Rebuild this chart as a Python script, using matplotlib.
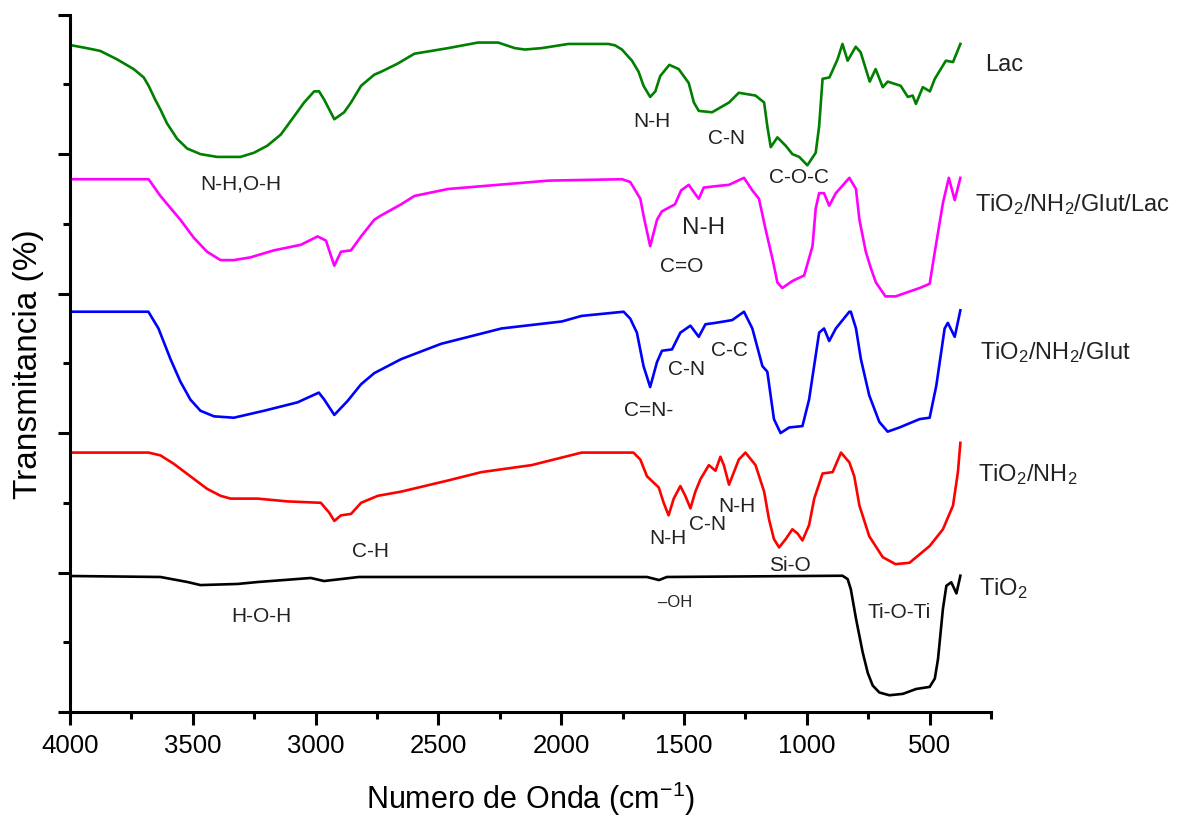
import matplotlib
matplotlib.use("Agg")
import matplotlib.pyplot as plt
from matplotlib.ticker import MultipleLocator, NullFormatter

plt.rcParams['font.family'] = ['Liberation Sans', 'DejaVu Sans']
plt.rcParams['mathtext.default'] = 'regular'

# FTIR spectra, stacked with vertical offsets (arbitrary transmittance units)
lac_wn = [3993, 3932, 3877, 3809, 3741, 3700, 3680, 3653, 3632, 3605, 3564, 3523, 3469,
          3401, 3306, 3251, 3197, 3142, 3088, 3047, 3006, 2986, 2965, 2924, 2884, 2856,
          2815, 2761, 2734, 2665, 2598, 2529, 2461, 2339, 2257, 2189, 2148, 2080, 1971,
          1808, 1781, 1753, 1712, 1685, 1665, 1638, 1617, 1597, 1560, 1522, 1481, 1460,
          1440, 1386, 1317, 1277, 1209, 1174, 1161, 1147, 1120, 1086, 1059, 1031, 998,
          964, 950, 936, 908, 875, 855, 834, 801, 781, 744, 720, 691, 671, 618, 589,
          569, 556, 528, 499, 479, 434, 405, 375]
lac_t = [4.78, 4.76, 4.74, 4.68, 4.61, 4.55, 4.49, 4.39, 4.32, 4.22, 4.11, 4.04, 4.00,
         3.98, 3.98, 4.01, 4.06, 4.14, 4.27, 4.37, 4.45, 4.45, 4.39, 4.25, 4.30, 4.37,
         4.49, 4.57, 4.59, 4.65, 4.72, 4.74, 4.76, 4.80, 4.80, 4.76, 4.75, 4.76, 4.79,
         4.79, 4.78, 4.75, 4.67, 4.59, 4.49, 4.41, 4.45, 4.56, 4.64, 4.61, 4.51, 4.37,
         4.31, 4.30, 4.37, 4.44, 4.42, 4.37, 4.20, 4.05, 4.12, 4.06, 4.00, 3.98, 3.92,
         4.01, 4.20, 4.54, 4.55, 4.68, 4.79, 4.67, 4.77, 4.73, 4.52, 4.61, 4.48, 4.52,
         4.49, 4.41, 4.42, 4.36, 4.48, 4.45, 4.54, 4.67, 4.66, 4.79]

glut_lac_wn = [3993, 3680, 3632, 3551, 3496, 3442, 3387, 3333, 3265, 3170, 3060, 2992,
               2958, 2924, 2897, 2856, 2815, 2761, 2734, 2652, 2598, 2461, 2257, 2053,
               1753, 1719, 1678, 1665, 1638, 1610, 1590, 1537, 1512, 1481, 1453, 1440,
               1420, 1372, 1317, 1256, 1222, 1195, 1168, 1140, 1120, 1100, 1059, 1011,
               977, 964, 950, 930, 909, 882, 827, 800, 786, 760, 739, 719, 680, 639, 541,
               500, 479, 446, 422, 398, 375]
glut_lac_t = [3.82, 3.82, 3.70, 3.53, 3.40, 3.30, 3.24, 3.24, 3.26, 3.31, 3.35, 3.41,
              3.38, 3.20, 3.30, 3.31, 3.41, 3.53, 3.56, 3.64, 3.70, 3.75, 3.78, 3.81,
              3.82, 3.80, 3.68, 3.56, 3.34, 3.53, 3.59, 3.64, 3.74, 3.78, 3.71, 3.68,
              3.76, 3.77, 3.78, 3.83, 3.74, 3.68, 3.46, 3.25, 3.08, 3.04, 3.09, 3.13,
              3.34, 3.61, 3.72, 3.72, 3.63, 3.72, 3.83, 3.75, 3.53, 3.30, 3.18, 3.08,
              2.98, 2.98, 3.04, 3.07, 3.30, 3.65, 3.83, 3.67, 3.83]

glut_wn = [3993, 3681, 3640, 3591, 3551, 3510, 3469, 3414, 3333, 3210, 3074, 2987, 2965,
           2924, 2897, 2870, 2815, 2761, 2652, 2489, 2243, 1998, 1917, 1746, 1719, 1692,
           1665, 1638, 1610, 1590, 1549, 1515, 1474, 1440, 1413, 1372, 1304, 1256, 1222,
           1181, 1161, 1134, 1107, 1072, 1018, 991, 950, 930, 909, 882, 827, 821, 800,
           780, 746, 705, 671, 623, 541, 500, 473, 439, 426, 398, 375]
glut_t = [2.87, 2.87, 2.75, 2.53, 2.37, 2.24, 2.16, 2.12, 2.11, 2.16, 2.22, 2.29, 2.24,
          2.13, 2.18, 2.23, 2.35, 2.43, 2.53, 2.64, 2.75, 2.80, 2.84, 2.87, 2.82, 2.72,
          2.48, 2.33, 2.51, 2.59, 2.60, 2.72, 2.77, 2.69, 2.78, 2.79, 2.81, 2.87, 2.75,
          2.48, 2.44, 2.10, 2.00, 2.04, 2.05, 2.24, 2.72, 2.75, 2.66, 2.75, 2.87, 2.87,
          2.75, 2.53, 2.27, 2.08, 2.01, 2.04, 2.10, 2.11, 2.34, 2.75, 2.79, 2.69, 2.88]

nh2_wn = [3993, 3680, 3632, 3578, 3510, 3442, 3387, 3346, 3237, 3115, 2979, 2945, 2924,
          2897, 2856, 2815, 2747, 2652, 2461, 2325, 2121, 1917, 1706, 1678, 1651, 1603,
          1583, 1563, 1542, 1515, 1495, 1474, 1454, 1433, 1399, 1372, 1352, 1338, 1317,
          1277, 1250, 1209, 1174, 1154, 1134, 1113, 1086, 1059, 1038, 1018, 991, 970,
          936, 895, 861, 827, 807, 786, 746, 691, 639, 582, 500, 446, 405, 385, 375]
nh2_t = [1.86, 1.86, 1.84, 1.78, 1.69, 1.60, 1.55, 1.53, 1.53, 1.51, 1.50, 1.43, 1.37,
         1.41, 1.42, 1.50, 1.55, 1.58, 1.66, 1.72, 1.77, 1.86, 1.86, 1.81, 1.69, 1.61,
         1.50, 1.41, 1.53, 1.62, 1.55, 1.46, 1.58, 1.67, 1.77, 1.73, 1.83, 1.77, 1.63,
         1.81, 1.86, 1.77, 1.58, 1.38, 1.24, 1.18, 1.24, 1.31, 1.28, 1.23, 1.34, 1.53,
         1.71, 1.72, 1.86, 1.79, 1.69, 1.48, 1.26, 1.11, 1.06, 1.07, 1.19, 1.31, 1.48,
         1.72, 1.93]

tio2_wn = [3993, 3632, 3522, 3469, 3318, 3236, 3130, 3020, 2966, 2824, 1651, 1602, 1570,
           855, 834, 821, 800, 773, 752, 732, 705, 664, 609, 555, 500, 479, 466, 446,
           432, 412, 391, 375]
tio2_t = [0.975, 0.968, 0.932, 0.910, 0.918, 0.932, 0.946, 0.961, 0.939, 0.968, 0.968,
          0.946, 0.968, 0.977, 0.953, 0.88, 0.67, 0.43, 0.28, 0.19, 0.14, 0.12, 0.13,
          0.165, 0.18, 0.24, 0.38, 0.74, 0.905, 0.93, 0.85, 0.977]

fig = plt.figure(figsize=(11.79, 8.20), dpi=100)
ax = fig.add_axes([0.0594, 0.1305, 0.7812, 0.8504])

lw = 1.9
ax.plot(lac_wn, lac_t, color='#007F00', lw=lw)
ax.plot(glut_lac_wn, glut_lac_t, color='#FF00FF', lw=lw)
ax.plot(glut_wn, glut_t, color='#0000FF', lw=lw)
ax.plot(nh2_wn, nh2_t, color='#FF0000', lw=lw)
ax.plot(tio2_wn, tio2_t, color='black', lw=lw)

ax.set_xlim(4000, 250)
ax.set_ylim(0, 5)
ax.xaxis.set_major_locator(MultipleLocator(500))
ax.xaxis.set_minor_locator(MultipleLocator(250))
ax.yaxis.set_major_locator(MultipleLocator(1))
ax.yaxis.set_minor_locator(MultipleLocator(0.5))
ax.yaxis.set_major_formatter(NullFormatter())
ax.spines['top'].set_visible(False)
ax.spines['right'].set_visible(False)
for s in ('left', 'bottom'):
    ax.spines[s].set_linewidth(2.2)
ax.tick_params(which='major', direction='out', length=9, width=2.2, labelsize=18.5, pad=6)
ax.tick_params(which='minor', direction='out', length=5, width=2.2)

ax.set_xlabel('Numero de Onda (cm$^{-1}$)', fontsize=22, labelpad=16)
ax.set_ylabel('Transmitancia (%)', fontsize=24, labelpad=4)

# band assignments
bands = [
    ('N-H,O-H', 3306, 3.79, 15),
    ('N-H', 1631, 4.24, 15),
    ('C-N', 1328, 4.12, 15),
    ('C-O-C', 1030, 3.84, 15),
    ('N-H', 1422, 3.48, 17.5),
    ('C=O', 1508, 3.20, 15),
    ('C-C', 1316, 2.60, 15),
    ('C-N', 1488, 2.46, 15),
    ('C=N-', 1643, 2.17, 15),
    ('N-H', 1284, 1.48, 15),
    ('C-N', 1406, 1.355, 15),
    ('N-H', 1565, 1.25, 15),
    ('Si-O', 1071, 1.06, 15),
    ('–OH', 1537, 0.79, 12),
    ('Ti-O-Ti', 626, 0.717, 15),
    ('C-H', 2775, 1.155, 15),
    ('H-O-H', 3220, 0.69, 15),
]
for txt, x, y, fs in bands:
    ax.text(x, y, txt, fontsize=fs, ha='center', va='center', color='#222222')

# sample names at the right end of each spectrum
names = [
    ('Lac', 275, 4.60),
    ('TiO$_2$/NH$_2$/Glut/Lac', 315, 3.60),
    ('TiO$_2$/NH$_2$/Glut', 295, 2.54),
    ('TiO$_2$/NH$_2$', 303, 1.66),
    ('TiO$_2$', 299, 0.846),
]
for txt, x, y in names:
    ax.text(x, y, txt, fontsize=17, ha='left', va='baseline', color='#222222', clip_on=False)

plt.savefig('out.png', dpi=100)
